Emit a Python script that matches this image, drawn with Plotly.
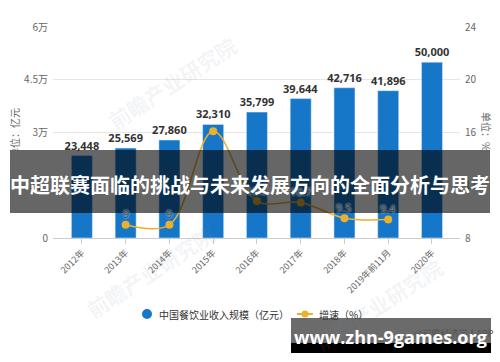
import plotly.graph_objects as go

categories = ["2012年", "2013年", "2014年", "2015年", "2016年", "2017年", "2018年", "2019年前11月", "2020年"]
revenue = [23448, 25569, 27860, 32310, 35799, 39644, 42716, 41896, 50000]
growth_cats = ["2013年", "2014年", "2015年", "2016年", "2017年", "2018年", "2019年前11月"]
growth = [9.0, 9.0, 16.1, 10.8, 10.7, 9.5, 9.4]
growth_labels = ["9", "9", "", "10.8", "10.7", "9.5", "9.4"]
left_ticks = [0, 15000, 30000, 45000, 60000]
left_ticktext = ["0", "1.5万", "3万", "4.5万", "6万"]
right_ticks = [8, 12, 16, 20, 24]

BLUE = "#1677c8"
GOLD = "#eab02e"
FONT = "Noto Sans CJK SC"

# plot-area pixel helpers (for overlays only)
X0, X1, Y0, Y1 = 53, 460, 27, 238
def px(x):
    return (x - X0) / (X1 - X0)
def py(y):
    return (Y1 - y) / (Y1 - Y0)

def note(x, y, text, **kw):
    d = dict(x=px(x), y=py(y), xref="paper", yref="paper", text=text, showarrow=False,
             xanchor="center", yanchor="middle")
    d.update(kw)
    return d

fig = go.Figure()
fig.add_trace(go.Bar(
    x=categories, y=revenue, marker_color=BLUE, width=0.48,
    text=[f"{v:,}" for v in revenue], textposition="outside", constraintext="none",
    textfont=dict(family="Noto Sans", size=11, color="#333333", weight="bold"),
    cliponaxis=False, showlegend=False, name="中国餐饮业收入规模（亿元）"))
fig.add_trace(go.Scatter(
    x=growth_cats, y=growth, yaxis="y2", mode="lines+markers",
    line=dict(color=GOLD, width=1.5, shape="spline", smoothing=1.0),
    marker=dict(color=GOLD, size=8),
    cliponaxis=False, showlegend=False, name="增速（%）"))

shapes = []
annotations = []

# faint background watermarks
wm_font = dict(family=FONT, size=21, color="rgba(120,140,165,0.10)", weight="bold")
annotations.append(note(172, 83, "前瞻产业研究院", textangle=-33, font=wm_font))
annotations.append(note(378, 305, "前瞻产业研究院", textangle=-33, font=wm_font))
annotations.append(note(150, 272, "前瞻产业研究院", textangle=-33, font=wm_font))

# growth line data labels (placed via the line's own axes)
for c, v, t in zip(growth_cats, growth, growth_labels):
    if t:
        annotations.append(dict(x=c, y=v, xref="x", yref="y2", text=t, showarrow=False, yshift=11,
                                xanchor="center", yanchor="middle",
                                font=dict(family="Noto Sans", size=11, color="#444444",
                                          shadow="0px 0px 2px white")))

# axis titles
annotations.append(note(14, 133, "单位：亿元", textangle=-90, font=dict(family=FONT, size=10, color="#666666")))
annotations.append(note(487, 131, "单位：%", textangle=90, font=dict(family=FONT, size=10, color="#666666")))

# legend (manual)
shapes.append(dict(type="circle", xref="paper", yref="paper", x0=px(142), x1=px(152), y0=py(319), y1=py(309),
                   fillcolor=BLUE, line=dict(width=0)))
annotations.append(note(157, 314, "中国餐饮业收入规模（亿元）", xanchor="left",
                        font=dict(family=FONT, size=10, color="#333333")))
shapes.append(dict(type="line", xref="paper", yref="paper", x0=px(297), x1=px(313), y0=py(314), y1=py(314),
                   line=dict(color=GOLD, width=2)))
shapes.append(dict(type="circle", xref="paper", yref="paper", x0=px(301.5), x1=px(308.5), y0=py(317.5), y1=py(310.5),
                   fillcolor=GOLD, line=dict(width=0)))
annotations.append(note(317, 314, "增速（%）", xanchor="left", font=dict(family=FONT, size=10, color="#333333")))

# title banner overlay
shapes.append(dict(type="rect", xref="paper", yref="paper", x0=px(10), x1=px(490), y0=py(213), y1=py(150),
                   fillcolor="rgba(0,0,0,0.6)", line=dict(width=0), layer="above"))
annotations.append(note(250, 184, "中超联赛面临的挑战与未来发展方向的全面分析与思考",
                        font=dict(family=FONT, size=20, color="white", weight="bold")))

# watermark box
annotations.append(note(496, 333, "@前瞻经济学人APP", xanchor="right", font=dict(family=FONT, size=9, color="#555555")))
shapes.append(dict(type="rect", xref="paper", yref="paper", x0=px(291), x1=px(491), y0=py(343), y1=py(318),
                   fillcolor="rgba(0,0,0,0.58)", line=dict(width=0), layer="above"))
shapes.append(dict(type="rect", xref="paper", yref="paper", x0=px(291), x1=px(491), y0=py(353), y1=py(343),
                   fillcolor="black", line=dict(width=0), layer="above"))
annotations.append(note(390, 337, "www.zhn-9games.org",
                        font=dict(family="Open Sans", size=18, color="white", weight="bold")))

fig.update_layout(
    width=500, height=362,
    margin=dict(l=X0, r=500 - X1, t=Y0, b=362 - Y1, autoexpand=False),
    paper_bgcolor="white", plot_bgcolor="white",
    font=dict(family=FONT, size=10, color="#666666"),
    bargap=0.5,
    xaxis=dict(type="category", range=[-0.66, 8.64], tickangle=-45, showgrid=False, automargin=False,
               showline=True, linecolor="#cccccc", ticks="outside", ticklen=5, tickcolor="#cccccc",
               tickfont=dict(size=9, color="#666666")),
    yaxis=dict(range=[0, 60000], tickvals=left_ticks, ticktext=left_ticktext, showgrid=True, automargin=False,
               gridcolor="#e6e6e6", zeroline=False, tickfont=dict(size=10, color="#666666"), ticklabelstandoff=4),
    yaxis2=dict(range=[8, 24], tickvals=right_ticks, overlaying="y", side="right", showgrid=False, automargin=False,
                zeroline=False, tickfont=dict(size=10, color="#666666"), ticklabelstandoff=4),
    shapes=shapes, annotations=annotations,
)

fig.write_html("out.html", config={"displayModeBar": False},
               post_script="document.body.style.margin='0px';document.body.style.overflow='hidden';")
